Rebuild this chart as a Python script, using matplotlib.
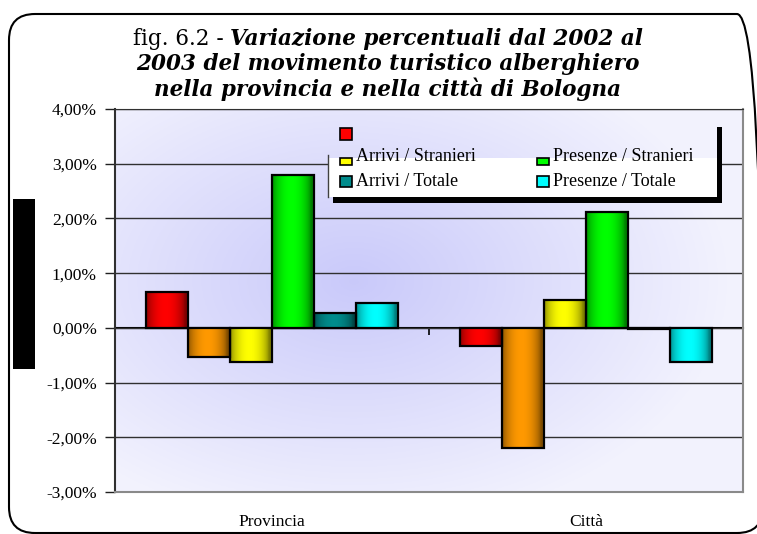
import numpy as np
import matplotlib.pyplot as plt
from matplotlib.patches import Rectangle, FancyBboxPatch
from matplotlib.transforms import IdentityTransform

categories = ['Provincia', 'Città']
series = ['', 'Arrivi / Italiani', 'Arrivi / Stranieri', 'Presenze / Stranieri',
          'Arrivi / Totale', 'Presenze / Totale']
values = [
    [0.65, -0.33],
    [-0.53, -2.20],
    [-0.63, 0.51],
    [2.80, 2.12],
    [0.27, -0.03],
    [0.45, -0.63],
]
colors = [(1, 0, 0), (1, 0.6, 0), (1, 1, 0), (0, 1, 0), (0, 0.55, 0.55), (0, 1, 1)]
yticks = [-3, -2, -1, 0, 1, 2, 3, 4]

W, H = 757, 534
fig = plt.figure(figsize=(W / 100, H / 100), dpi=100)


def px(x, y):
    return x / W, 1 - y / H


# rounded outer border
fig.patches.append(FancyBboxPatch((9, 1), 754, 519, boxstyle='round,pad=0,rounding_size=26',
                                  transform=IdentityTransform(), facecolor='none',
                                  edgecolor='black', lw=1.5, zorder=10))

ax = fig.add_axes([115 / W, 1 - 492 / H, (743 - 115) / W, (492 - 109) / H])
ax.set_xlim(-0.5, 1.5)
ax.set_ylim(-3, 4)

# background gradient
ny, nx = 200, 300
yy, xx = np.mgrid[0:1:ny * 1j, 0:1:nx * 1j]
d = np.clip(np.sqrt(((xx - 0.38) / 0.6) ** 2 + ((yy - 0.55) / 0.65) ** 2), 0, 1)
c0 = np.array([0.79, 0.79, 0.98])
c1 = np.array([0.95, 0.95, 0.995])
img = c0 + (c1 - c0) * d[..., None]
ax.imshow(img, extent=(-0.5, 1.5, -3, 4), aspect='auto', origin='lower', zorder=0)

for y in yticks:
    ax.axhline(y, color='#303030', lw=1, zorder=1)

w = 0.134
t = np.linspace(0, 1, 64)
prof = 0.5 + 0.5 * np.sin(np.pi * np.clip(t * 1.1, 0, 1)) ** 0.6
x = np.arange(len(categories))
for i, (vals, col) in enumerate(zip(values, colors)):
    bars = ax.bar(x + (i - 2.5) * w, vals, w, facecolor='none', edgecolor='black',
                  lw=1.6, zorder=3)
    grad = np.array(col)[None, None, :] * prof[None, :, None]
    for b in bars:
        bx, bw, bh = b.get_x(), b.get_width(), b.get_height()
        ax.imshow(grad, extent=(bx, bx + bw, min(0, bh), max(0, bh)), aspect='auto',
                  zorder=2, interpolation='bilinear')
ax.set_xlim(-0.5, 1.5)
ax.set_ylim(-3, 4)

# zero axis with category ticks
sec = ax.secondary_xaxis(3 / 7)
sec.set_xticks([-0.5, 0.5, 1.5])
sec.set_xticklabels([])
sec.tick_params(direction='out', length=5, width=1.2, color='black')
sec.spines['bottom'].set_color('black')
sec.spines['bottom'].set_linewidth(1.5)
sec.spines['bottom'].set_zorder(4)

ax.set_xticks(x)
ax.set_xticklabels(categories, family='Liberation Serif', fontsize=12.5)
ax.tick_params(axis='x', length=0, pad=16)
ax.set_yticks(yticks)
ax.set_yticklabels([f'{v},00%' for v in yticks], family='Liberation Serif', fontsize=12.5)
ax.tick_params(axis='y', direction='out', length=7, width=1, color='#202020', pad=6)
ax.spines['left'].set_color('#303030')
ax.spines['left'].set_linewidth(1.5)
for s in ['right', 'bottom']:
    ax.spines[s].set_color('#8a8a8a')
    ax.spines[s].set_linewidth(1.5)
ax.spines['top'].set_color('#303030')
ax.spines['top'].set_linewidth(0.8)

# redacted y label block
fig.patches.append(Rectangle(px(13, 369), 22 / W, 170 / H, transform=fig.transFigure,
                             facecolor='black', edgecolor='none', zorder=5))

# legend
def frect(x0, y0, x1, y1, **kw):
    fig.patches.append(Rectangle(px(x0, y1), (x1 - x0) / W, (y1 - y0) / H,
                                 transform=fig.transFigure, **kw))

frect(333, 196, 722, 203, facecolor='black', edgecolor='none', zorder=5)
frect(717, 127, 722, 203, facecolor='black', edgecolor='none', zorder=5)
frect(328, 158, 717, 197, facecolor='white', edgecolor='none', zorder=5)
fig.add_artist(plt.Line2D([328 / W, 328 / W], [1 - 155 / H, 1 - 197 / H], color='#404040',
                          lw=1, zorder=6))
entries = [(340, 128, 140, None), (340, 158, 165, 157), (537, 158, 165, 157),
           (340, 176, 187, 181), (537, 176, 187, 181)]
legend_idx = [0, 2, 3, 4, 5]
for (lx, y0, y1, ty), k in zip(entries, legend_idx):
    frect(lx, y0, lx + 12, y1, facecolor=colors[k], edgecolor='black', lw=1.2, zorder=7)
    if series[k]:
        fig.text(*px(lx + 16, ty), series[k], family='Liberation Serif', fontsize=13,
                 va='center', ha='left', zorder=8)

# title
fig.canvas.draw()
r = fig.canvas.get_renderer()
tfont = dict(family='DejaVu Serif', fontsize=15.5)
lines = [('fig. 6.2 - ', 'Variazione percentuali dal 2002 al'),
         ('', '2003 del movimento turistico alberghiero'),
         ('', 'nella provincia e nella città di Bologna')]
for (a, b), yc in zip(lines, [39, 64, 89]):
    ta = fig.text(0, 0, a, **tfont)
    tb = fig.text(0, 0, b, weight='bold', style='italic', **tfont)
    wa = ta.get_window_extent(r).width if a else 0
    wb = tb.get_window_extent(r).width
    x0 = 388 - (wa + wb) / 2
    ta.set_position(px(x0, yc)); ta.set_va('center')
    tb.set_position(px(x0 + wa, yc)); tb.set_va('center')

fig.savefig('out.png', dpi=100)
